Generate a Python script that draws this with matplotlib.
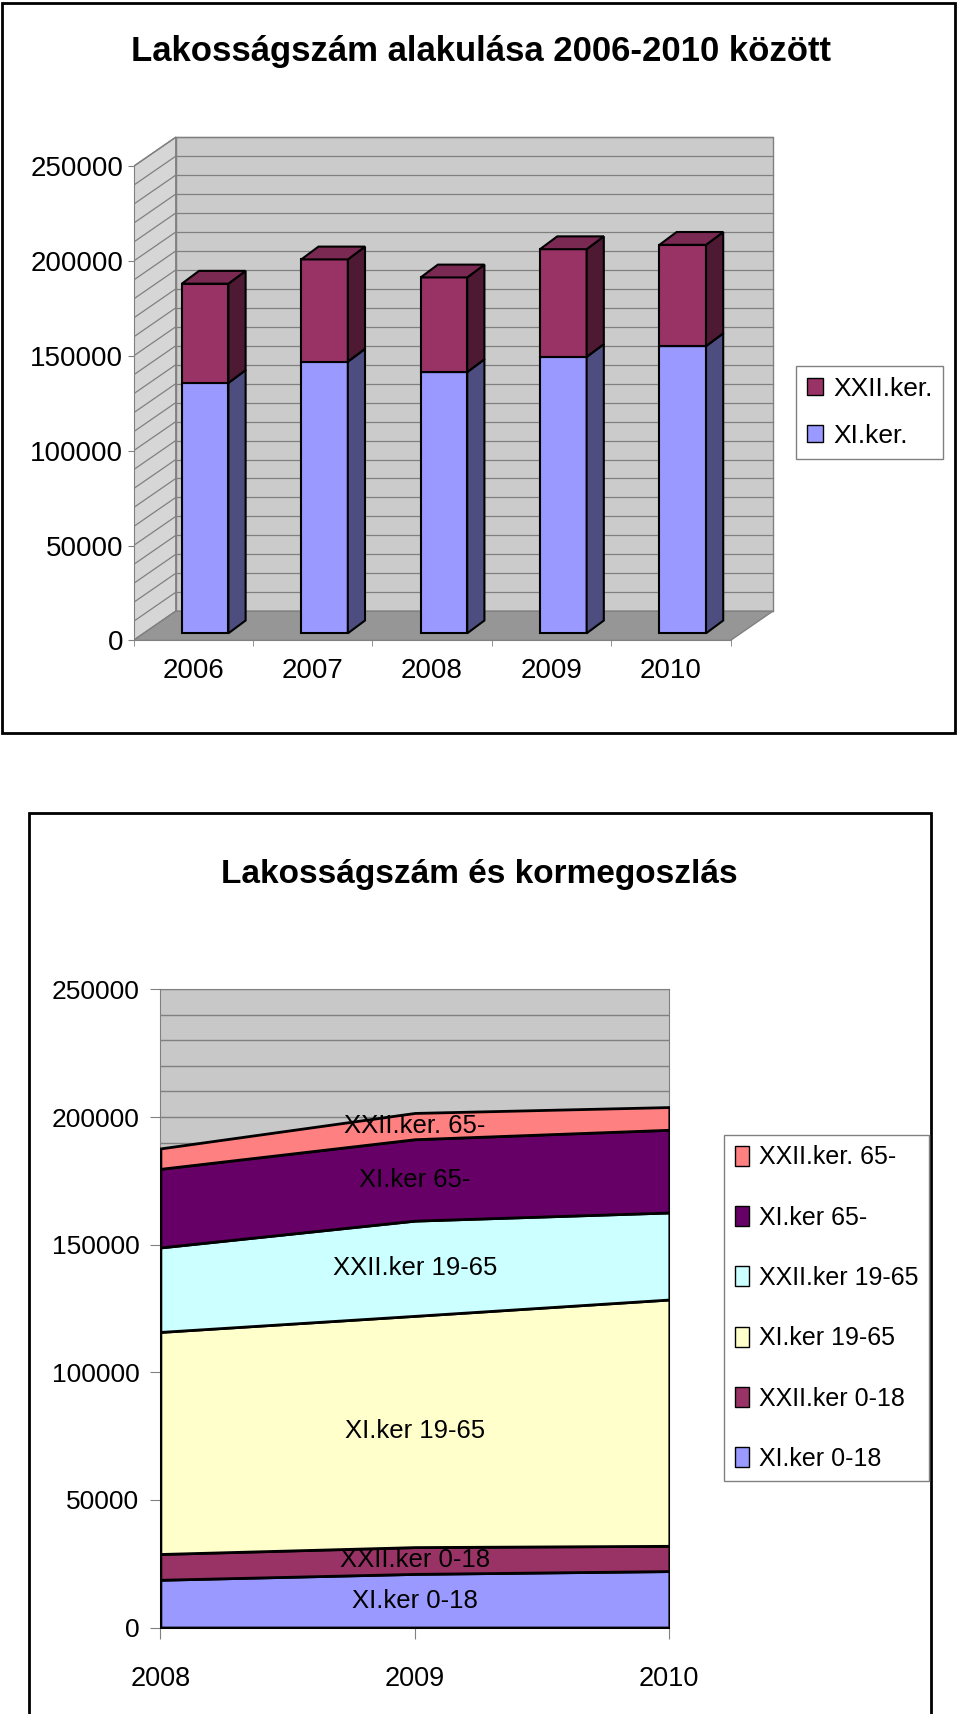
import matplotlib
matplotlib.use("Agg")
import matplotlib.pyplot as plt
from matplotlib.patches import Polygon, Rectangle, Patch
import numpy as np

plt.rcParams["font.family"] = ["Liberation Sans", "DejaVu Sans"]

# top chart: stacked 3D columns
years_top = ["2006", "2007", "2008", "2009", "2010"]
xi_ker = [132100, 143300, 137800, 145800, 151500]
xxii_ker = [52300, 53900, 49900, 56800, 53400]

# bottom chart: stacked areas by age group
years_area = ["2008", "2009", "2010"]
xi_0_18 = [18700, 21000, 22100]
xxii_0_18 = [10100, 10500, 9900]
xi_19_65 = [87000, 90600, 96500]
xxii_19_65 = [33100, 37300, 34100]
xi_65 = [30800, 31900, 32400]
xxii_65 = [8000, 10300, 8900]
area_names = ["XI.ker 0-18", "XXII.ker 0-18", "XI.ker 19-65",
              "XXII.ker 19-65", "XI.ker 65-", "XXII.ker. 65-"]
area_colors = ["#9999ff", "#993366", "#ffffcc", "#ccffff", "#660066", "#ff8080"]

W, H = 960, 1714
fig = plt.figure(figsize=(W / 100, H / 100), dpi=100)


def fx(px):
    return px / W


def fy(py):
    return 1 - py / H


# ---------------- top chart ----------------
DX, DY = 0.354, 15400      # wall depth
OX, OY = 0.10, 3745        # bar front offset into the depth
SX, SY = 0.144, 6750       # bar depth
BW = 0.39
GRID = "#808080"

ax = fig.add_axes([fx(133.5), fy(640.4), 5.4 * 119.4 / W, 270000 * 0.001896 / H])
ax.set_xlim(-0.5, 4.9)
ax.set_ylim(0, 270000)
ax.set_facecolor("none")

x0w, x1w = -0.5, 4.5
ax.add_patch(Polygon([(x0w, 0), (x0w + DX, DY), (x0w + DX, 250000 + DY), (x0w, 250000)],
                     fc="#d6d6d6", ec=GRID, lw=1, zorder=1))
ax.add_patch(Polygon([(x0w + DX, DY), (x1w + DX, DY), (x1w + DX, 250000 + DY), (x0w + DX, 250000 + DY)],
                     fc="#cbcbcb", ec=GRID, lw=1, zorder=1))
for v in np.arange(0, 250001, 10000):
    ax.plot([x0w, x0w + DX], [v, v + DY], color=GRID, lw=0.9, zorder=2)
    ax.plot([x0w + DX, x1w + DX], [v + DY, v + DY], color=GRID, lw=0.9, zorder=2)
ax.add_patch(Polygon([(x0w, 0), (x1w, 0), (x1w + DX, DY), (x0w + DX, DY)],
                     fc="#969696", ec=GRID, lw=1, zorder=3))

xpos = np.arange(len(years_top))
base = np.zeros(len(years_top))
styles = [(xi_ker, "#9999ff", "#4d4d80", "#7a7acc"),
          (xxii_ker, "#993366", "#4d1933", "#7a2952")]
z = 4
for vals, front, side, top in styles:
    vals = np.array(vals, dtype=float)
    ax.bar(xpos + OX, vals, width=BW, bottom=OY + base, color=front,
           edgecolor="black", linewidth=1.5, zorder=z)
    for i in xpos:
        xa = i + OX - BW / 2
        xb = xa + BW
        ya = OY + base[i]
        yb = ya + vals[i]
        ax.add_patch(Polygon([(xb, ya), (xb + SX, ya + SY), (xb + SX, yb + SY), (xb, yb)],
                             fc=side, ec="black", lw=1.5, zorder=z))
        ax.add_patch(Polygon([(xa, yb), (xb, yb), (xb + SX, yb + SY), (xa + SX, yb + SY)],
                             fc=top, ec="black", lw=1.5, zorder=z))
    base = base + vals
    z += 1

for s in ["top", "right"]:
    ax.spines[s].set_visible(False)
ax.spines["left"].set_bounds(0, 250000)
ax.spines["bottom"].set_bounds(-0.5, 4.5)
for s in ["left", "bottom"]:
    ax.spines[s].set_color(GRID)
    ax.spines[s].set_zorder(3.5)
ax.set_yticks(np.arange(0, 250001, 50000))
ax.set_yticklabels([str(v) for v in range(0, 250001, 50000)])
ax.tick_params(axis="y", length=4, color=GRID, pad=3.5, labelsize=20)
ax.set_xticks(xpos)
ax.set_xticklabels(years_top)
ax.tick_params(axis="x", which="major", length=0, pad=13, labelsize=20)
ax.set_xticks(np.arange(-0.5, 4.6, 1.0), minor=True)
ax.tick_params(axis="x", which="minor", length=4, color=GRID)

leg1 = fig.legend([Patch(fc="#993366", ec="black"), Patch(fc="#9999ff", ec="black")],
                  ["XXII.ker.", "XI.ker."], loc="upper left",
                  bbox_to_anchor=(fx(796), fy(366)), bbox_transform=fig.transFigure,
                  fontsize=19, fancybox=False, edgecolor=GRID, framealpha=1,
                  borderpad=0.42, handlelength=0.62, handleheight=0.6,
                  handletextpad=0.36, labelspacing=0.85, borderaxespad=0)
leg1.get_frame().set_linewidth(1)

fig.text(fx(480.7), fy(51), "Lakosságszám alakulása 2006-2010 között",
         ha="center", va="center", fontsize=25, fontweight="bold")
fig.patches.append(Rectangle((fx(2), fy(733)), (955 - 2) / W, (733 - 3) / H,
                             transform=fig.transFigure, fill=False, ec="black", lw=2))

# ---------------- bottom chart ----------------
ax2 = fig.add_axes([fx(160.4), fy(1627.5), (669.3 - 160.4) / W, (1627.5 - 989.4) / H])
xs = np.arange(len(years_area))
series = [xi_0_18, xxii_0_18, xi_19_65, xxii_19_65, xi_65, xxii_65]
ax2.stackplot(xs, *series, colors=area_colors, edgecolor="black", linewidth=2, zorder=3)
ax2.set_xlim(0, 2)
ax2.set_ylim(0, 250000)
ax2.set_facecolor("#c8c8c8")
ax2.set_axisbelow(True)
ax2.set_yticks(np.arange(0, 250001, 50000))
ax2.set_yticklabels([str(v) for v in range(0, 250001, 50000)])
ax2.set_yticks(np.arange(0, 250001, 10000), minor=True)
ax2.grid(True, which="both", axis="y", color=GRID, lw=1)
ax2.tick_params(axis="y", which="major", length=7.5, color=GRID, pad=7.5, labelsize=19)
ax2.tick_params(axis="y", which="minor", length=0)
ax2.set_xticks(xs)
ax2.set_xticklabels(years_area)
ax2.tick_params(axis="x", length=8, color=GRID, pad=20, labelsize=19.5)
for s in ax2.spines.values():
    s.set_color(GRID)

cum = np.zeros(len(years_area))
for name, vals in zip(area_names, series):
    vals = np.array(vals, dtype=float)
    ax2.text(1, cum[1] + vals[1] / 2, name, ha="center", va="center",
             fontsize=18.5, zorder=5)
    cum = cum + vals

handles2 = [Patch(fc=c, ec="black") for c in area_colors][::-1]
leg2 = fig.legend(handles2, area_names[::-1], loc="upper left",
                  bbox_to_anchor=(fx(724.4), fy(1135)), bbox_transform=fig.transFigure,
                  fontsize=18, fancybox=False, edgecolor=GRID,
                  framealpha=1, borderpad=0.42, handlelength=0.58, handleheight=0.85,
                  handletextpad=0.4, labelspacing=1.45, borderaxespad=0)
leg2.get_frame().set_linewidth(1)

fig.text(fx(479.8), fy(874.6), "Lakosságszám és kormegoszlás", ha="center", va="center",
         fontsize=24, fontweight="bold")
fig.patches.append(Rectangle((fx(29.4), -0.05), (930.8 - 29.4) / W, (H - 813) / H + 0.05,
                             transform=fig.transFigure, fill=False, ec="black", lw=2))

fig.savefig("out.png", dpi=100)
